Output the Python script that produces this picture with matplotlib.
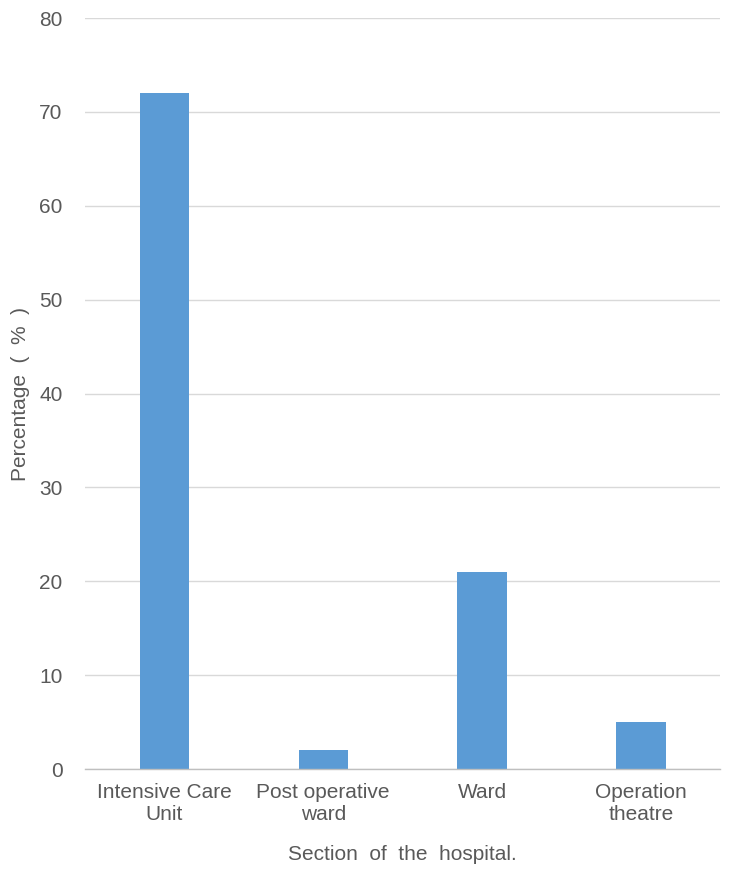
import matplotlib
matplotlib.use("Agg")
import matplotlib.pyplot as plt

# data
sections = ["Intensive Care\nUnit", "Post operative\nward", "Ward", "Operation\ntheatre"]
percent = [72, 2, 21, 5]
y_ticks = [0, 10, 20, 30, 40, 50, 60, 70, 80]

plt.rcParams['font.family'] = ['Liberation Sans', 'DejaVu Sans']
text_col = "#595959"
fs = 15

fig = plt.figure(figsize=(7.35, 8.75), dpi=100)
ax = fig.add_axes([0.1156, 0.1211, 0.8644, 0.8583])

x = list(range(len(sections)))
ax.bar(x, percent, width=0.31, color="#5B9BD5", zorder=3)

ax.set_xlim(-0.5, len(sections) - 0.5)
ax.set_ylim(0, 80)
ax.set_yticks(y_ticks)
ax.set_xticks(x)
ax.set_xticklabels(sections, fontsize=fs, color=text_col, linespacing=1.2)
ax.tick_params(axis='y', labelsize=fs, labelcolor=text_col, length=0, pad=16)
ax.tick_params(axis='x', length=0, pad=10)

ax.grid(axis='y', color="#D9D9D9", linewidth=1, zorder=0)
for s in ["top", "right", "left"]:
    ax.spines[s].set_visible(False)
ax.spines["bottom"].set_color("#BFBFBF")
ax.spines["bottom"].set_linewidth(1)
ax.spines["bottom"].set_zorder(4)

ax.set_ylabel("Percentage  (  %  )", fontsize=fs, color=text_col, labelpad=7)
ax.set_xlabel("Section  of  the  hospital.", fontsize=fs, color=text_col, labelpad=15)

fig.savefig("out.png", dpi=100)
